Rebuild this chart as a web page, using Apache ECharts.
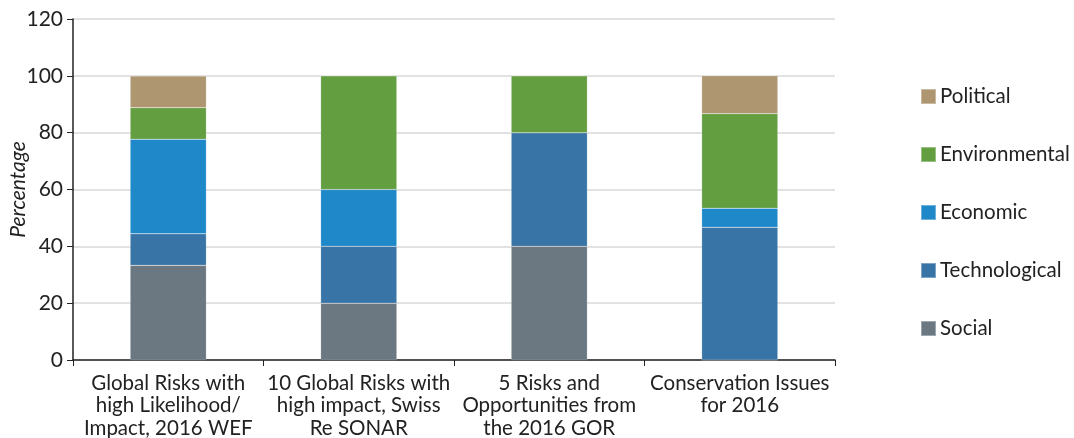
<!DOCTYPE html>
<html><head><meta charset="utf-8">
<script src="https://cdn.jsdelivr.net/npm/echarts@6/dist/echarts.min.js"></script>
<style>html,body{margin:0;padding:0;background:#fff}#c{width:1074px;height:438px}</style>
</head><body><div id="c"></div>
<script>
const categories = [
  "Global Risks with\nhigh Likelihood/\nImpact, 2016 WEF",
  "10 Global Risks with\nhigh impact, Swiss\nRe SONAR",
  "5 Risks and\nOpportunities from\nthe 2016 GOR",
  "Conservation Issues\nfor 2016"
];
const social        = [33.3, 20, 40, 0];
const technological = [11.1, 20, 40, 46.7];
const economic      = [33.3, 20, 0, 6.7];
const environmental = [11.1, 40, 20, 33.3];
const political     = [11.1, 0, 0, 13.3];
const yTicks = { min: 0, max: 120, interval: 20 };

const FONT = "Lato, 'Open Sans', sans-serif";
const colors = {
  Social: "#6B7881", Technological: "#3874A6", Economic: "#1F88C9",
  Environmental: "#639E41", Political: "#AD9670"
};
const seriesDefs = [
  ["Social", social], ["Technological", technological], ["Economic", economic],
  ["Environmental", environmental], ["Political", political]
];
const chart = echarts.init(document.getElementById('c'), null, {renderer: 'canvas'});
chart.setOption({
  animation: false,
  grid: { left: 73, right: 239, top: 19, bottom: 78, containLabel: false, outerBoundsMode: 'none' },
  legend: {
    orient: 'vertical', left: 915, top: 81,
    padding: 5,
    data: ["Political", "Environmental", "Economic", "Technological", "Social"],
    icon: 'rect', itemWidth: 15, itemHeight: 15, itemGap: 37,
    textStyle: { fontFamily: FONT, fontSize: 20.5, color: '#222', padding: [0,0,0,-1] },
    selectedMode: false
  },
  xAxis: {
    type: 'category', data: categories, boundaryGap: true,
    axisLine: { lineStyle: { color: '#222', width: 1.5 } },
    axisTick: { show: true, alignWithLabel: false, length: 6, lineStyle: { color: '#222' } },
    axisLabel: { fontFamily: FONT, fontSize: 20.5, color: '#222', lineHeight: 22.5, margin: 12, interval: 0 }
  },
  yAxis: {
    type: 'value', min: yTicks.min, max: yTicks.max, interval: yTicks.interval,
    name: 'Percentage', nameLocation: 'middle', nameGap: 44, nameMoveOverlap: false,
    nameTextStyle: { fontFamily: FONT, fontSize: 21, fontStyle: 'italic', color: '#222' },
    axisLine: { show: true, lineStyle: { color: '#222', width: 1.5 } },
    axisTick: { show: true, length: 6, lineStyle: { color: '#222' } },
    axisLabel: { fontFamily: FONT, fontSize: 21, color: '#222', margin: 10 },
    splitLine: { lineStyle: { color: '#d9d9d9', width: 1.5 } }
  },
  series: seriesDefs.map(([name, data]) => ({
    name, type: 'bar', stack: 'total', data, barWidth: '40%',
    itemStyle: { color: colors[name], borderColor: 'rgba(255,255,255,0.35)', borderWidth: 0.5 }
  }))
});
</script></body></html>
